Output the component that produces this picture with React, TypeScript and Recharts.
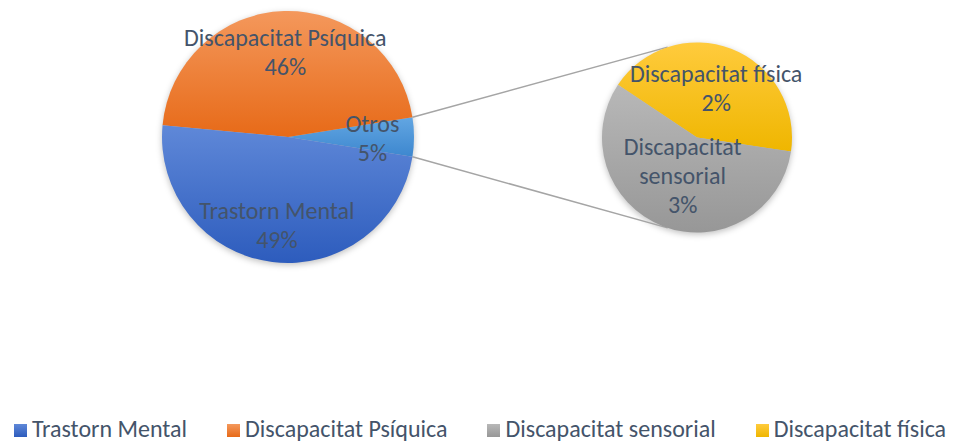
import { PieChart, Pie, Cell, Legend, Customized } from 'recharts';

const mainNames = ['Otros', 'Discapacitat Psíquica', 'Trastorn Mental'];
const mainValues = [5, 46, 49];
const subNames = ['Discapacitat física', 'Discapacitat sensorial'];
const subValues = [2.15, 2.85];
const legendNames = ['Trastorn Mental', 'Discapacitat Psíquica', 'Discapacitat sensorial', 'Discapacitat física'];

const GRADS: Record<string, [string, string]> = {
  'Trastorn Mental': ['#5f88d8', '#2d5cbd'],
  'Discapacitat Psíquica': ['#f4985c', '#e76a18'],
  Otros: ['#62a6e2', '#3d87cf'],
  'Discapacitat sensorial': ['#b8b8b8', '#979797'],
  'Discapacitat física': ['#ffcb3d', '#efb600'],
};
const gradId = (name: string) => 'g-' + name.replace(/[^a-z]/gi, '');

const W = 960;
const H = 443;
const MAIN = { cx: 288, cy: 137, r: 126 };
const SUB = { cx: 697, cy: 137.5, r: 95 };
const SUB_START = -8.5;
const CONNECT_ANGLE = 108;
const FONT = "Carlito, Calibri, 'Liberation Sans', sans-serif";
const FS = 24;
const TEXT = '#44546a';
const RADIAN = Math.PI / 180;

// label distance from centre, as fraction of radius
const LABEL_R: Record<string, number> = {
  Otros: 0.67,
  'Discapacitat Psíquica': 0.68,
  'Trastorn Mental': 0.7,
  'Discapacitat física': 0.56,
  'Discapacitat sensorial': 0.42,
};
const WRAPPED = ['Discapacitat sensorial'];

const mainTotal = mainValues.reduce((a, b) => a + b, 0);
const mainData = mainNames.map((name, i) => ({ name, value: mainValues[i] }));
const subData = subNames.map((name, i) => ({ name, value: subValues[i] }));
const mainStart = -((mainValues[0] / mainTotal) * 360) / 2;

const makeLabel = (names: string[]) => (props: any) => {
  const { cx, cy, midAngle, outerRadius, index, value } = props;
  const name = names[index];
  const d = outerRadius * (LABEL_R[name] ?? 0.6);
  const x = cx + d * Math.cos(-midAngle * RADIAN);
  const y = cy + d * Math.sin(-midAngle * RADIAN);
  const lines = WRAPPED.includes(name) ? name.split(' ') : [name];
  lines.push(`${Math.round((value / mainTotal) * 100)}%`);
  const lh = 29;
  const y0 = y - ((lines.length - 1) * lh) / 2;
  return (
    <text x={x} y={y0} fill={TEXT} fontSize={FS} fontFamily={FONT} textAnchor="middle" dominantBaseline="central">
      {lines.map((l, i) => (
        <tspan key={i} x={x} y={y0 + i * lh}>{l}</tspan>
      ))}
    </text>
  );
};

const pt = (c: { cx: number; cy: number }, r: number, a: number) => ({
  x: c.cx + r * Math.cos(a * RADIAN),
  y: c.cy - r * Math.sin(a * RADIAN),
});

const Shadows = () => (
  <g>
    <defs>
      <filter id="soft" x="-20%" y="-20%" width="140%" height="140%">
        <feGaussianBlur stdDeviation="3" />
      </filter>
    </defs>
    <circle cx={MAIN.cx} cy={MAIN.cy + 2} r={MAIN.r} fill="rgba(0,0,0,0.25)" filter="url(#soft)" />
    <circle cx={SUB.cx} cy={SUB.cy + 2} r={SUB.r} fill="rgba(0,0,0,0.25)" filter="url(#soft)" />
  </g>
);

const Connectors = () => {
  const half = -mainStart;
  const a1 = pt(MAIN, MAIN.r, half);
  const a2 = pt(MAIN, MAIN.r, -half);
  const b1 = pt(SUB, SUB.r, CONNECT_ANGLE);
  const b2 = pt(SUB, SUB.r, -CONNECT_ANGLE);
  return (
    <g stroke="#a5a5a5" strokeWidth={1.5}>
      <line x1={a1.x} y1={a1.y} x2={b1.x} y2={b1.y} />
      <line x1={a2.x} y1={a2.y} x2={b2.x} y2={b2.y} />
    </g>
  );
};

const renderLegend = () => (
  <div
    style={{
      display: 'flex',
      justifyContent: 'center',
      gap: 40,
      fontFamily: FONT,
      fontSize: FS,
      lineHeight: '26px',
      color: TEXT,
      whiteSpace: 'nowrap',
    }}
  >
    {legendNames.map((n) => (
      <div key={n} style={{ display: 'flex', alignItems: 'center' }}>
        <span
          style={{
            width: 13,
            height: 13,
            marginRight: 5,
            marginTop: 2,
            background: `linear-gradient(${GRADS[n][0]}, ${GRADS[n][1]})`,
          }}
        />
        {n}
      </div>
    ))}
  </div>
);

export default function App() {
  return (
    <div style={{ position: 'absolute', left: 0, top: 0, width: W, height: H, background: '#fff' }}>
      <PieChart width={W} height={H} margin={{ top: 0, right: 0, bottom: 0, left: 0 }}>
        <defs>
          {Object.entries(GRADS).map(([n, [a, b]]) => (
            <linearGradient key={n} id={gradId(n)} x1="0" y1="0" x2="0" y2="1">
              <stop offset="0%" stopColor={a} />
              <stop offset="100%" stopColor={b} />
            </linearGradient>
          ))}
        </defs>
        <Customized component={Shadows} />
        <Customized component={Connectors} />
        <Pie
          data={mainData}
          dataKey="value"
          nameKey="name"
          cx={MAIN.cx}
          cy={MAIN.cy}
          outerRadius={MAIN.r}
          startAngle={mainStart}
          endAngle={mainStart + 360}
          stroke="none"
          label={makeLabel(mainNames)}
          labelLine={false}
          isAnimationActive={false}
        >
          {mainData.map((d) => (
            <Cell key={d.name} fill={`url(#${gradId(d.name)})`} />
          ))}
        </Pie>
        <Pie
          data={subData}
          dataKey="value"
          nameKey="name"
          cx={SUB.cx}
          cy={SUB.cy}
          outerRadius={SUB.r}
          startAngle={SUB_START}
          endAngle={SUB_START + 360}
          stroke="none"
          label={makeLabel(subNames)}
          labelLine={false}
          isAnimationActive={false}
        >
          {subData.map((d) => (
            <Cell key={d.name} fill={`url(#${gradId(d.name)})`} />
          ))}
        </Pie>
        <Legend
          verticalAlign="bottom"
          content={renderLegend}
          wrapperStyle={{ left: 0, width: W, bottom: 1 }}
        />
      </PieChart>
    </div>
  );
}
